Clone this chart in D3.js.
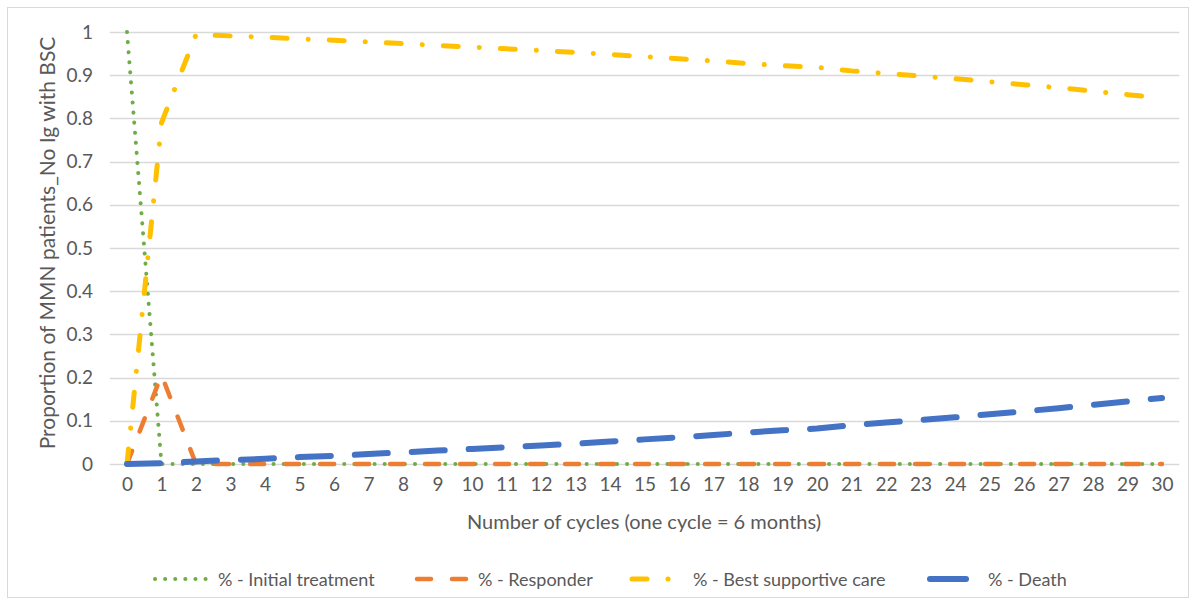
<!DOCTYPE html>
<html><head><meta charset="utf-8">
<script src="https://cdn.jsdelivr.net/npm/d3@7"></script>
<style>body{margin:0;background:#fff}svg{display:block}text{font-family:Lato,sans-serif;fill:#595959}</style>
</head><body><svg id="c" width="1201" height="604"></svg>
<script>
const cycles = d3.range(0, 31);
const initialTreatment = [1,0,0,0,0,0,0,0,0,0,0,0,0,0,0,0,0,0,0,0,0,0,0,0,0,0,0,0,0,0,0];
const responder = [0,0.206,0,0,0,0,0,0,0,0,0,0,0,0,0,0,0,0,0,0,0,0,0,0,0,0,0,0,0,0,0];
const bestSupportiveCare = [0,0.79,0.994,0.991,0.988,0.984,0.981,0.977,0.973,0.969,0.965,0.961,0.957,0.953,0.948,0.943,0.938,0.933,0.927,0.922,0.918,0.910,0.904,0.898,0.892,0.885,0.878,0.871,0.863,0.855,0.847];
const death = [0,0.002,0.006,0.009,0.012,0.016,0.019,0.023,0.027,0.031,0.035,0.039,0.043,0.047,0.052,0.057,0.062,0.067,0.073,0.078,0.082,0.090,0.096,0.102,0.108,0.115,0.122,0.129,0.137,0.145,0.153];
const yTicks = [0,0.1,0.2,0.3,0.4,0.5,0.6,0.7,0.8,0.9,1];
const seriesNames = ["% - Initial treatment","% - Responder","% - Best supportive care","% - Death"];

const series = [
  {name: seriesNames[0], values: initialTreatment, color: "#70AD47", w: 4, dash: "0.1,10"},
  {name: seriesNames[1], values: responder, color: "#ED7D31", w: 4.5, dash: "14,21"},
  {name: seriesNames[2], values: bestSupportiveCare, color: "#FFC000", w: 5, dash: "15,21,0.1,21"},
  {name: seriesNames[3], values: death, color: "#4472C4", w: 6, dash: "33,24"}
];

const svg = d3.select("#c");
svg.append("rect").attr("x",7.5).attr("y",7.5).attr("width",1181).attr("height",590)
  .attr("fill","#fff").attr("stroke","#d9d9d9");

const x = d3.scaleLinear().domain([0,30]).range([127,1162]);
const y = d3.scaleLinear().domain([0,1]).range([464,32]);
const band = x(1)-x(0);

// gridlines
svg.append("g").selectAll("line").data(yTicks).join("line")
  .attr("x1", x(0)-band/2).attr("x2", x(30)+band/2)
  .attr("y1", d=>Math.round(y(d))+0.5).attr("y2", d=>Math.round(y(d))+0.5)
  .attr("stroke","#d9d9d9").attr("stroke-width",1.3);

// y axis labels
const yAxis = d3.axisLeft(y).tickValues(yTicks).tickSize(0).tickPadding(0).tickFormat(d3.format("~g"));
const gy = svg.append("g").attr("transform","translate(93,0)").call(yAxis);
gy.select(".domain").remove();
gy.selectAll("text").style("font-size","19px").attr("fill","#595959").style("font-family","Lato,sans-serif");

// x axis labels
const xAxis = d3.axisBottom(x).tickValues(cycles).tickSize(0).tickPadding(0).tickFormat(d3.format("d"));
const gx = svg.append("g").attr("transform","translate(0,477)").call(xAxis);
gx.select(".domain").remove();
gx.selectAll("text").style("font-size","19px").attr("fill","#595959").style("font-family","Lato,sans-serif");

// titles
svg.append("text").attr("x",644).attr("y",529).attr("text-anchor","middle")
  .style("font-size","20px").text("Number of cycles (one cycle = 6 months)");
svg.append("text").attr("transform","translate(55,243) rotate(-90)").attr("text-anchor","middle")
  .style("font-size","21px").text("Proportion of MMN patients_No Ig with BSC");

// lines
const line = d3.line().x((d,i)=>x(cycles[i])).y(d=>y(d));
svg.append("g").selectAll("path").data(series).join("path")
  .attr("d", d=>line(d.values)).attr("fill","none")
  .attr("stroke", d=>d.color).attr("stroke-width", d=>d.w)
  .attr("stroke-dasharray", d=>d.dash).attr("stroke-linecap","round").attr("stroke-linejoin","round");

// legend
const legPos = [{x0:155,x1:212,tx:218},{x0:417,x1:470,tx:478},{x0:632,x1:670,tx:693},{x0:930,x1:966,tx:988}];
const lg = svg.append("g").selectAll("g").data(series).join("g");
lg.append("line").attr("x1",(d,i)=>legPos[i].x0).attr("x2",(d,i)=>legPos[i].x1)
  .attr("y1",579).attr("y2",579).attr("stroke",d=>d.color).attr("stroke-width",d=>d.w)
  .attr("stroke-dasharray",(d,i)=> i===3 ? null : d.dash).attr("stroke-linecap","round");
lg.append("text").attr("x",(d,i)=>legPos[i].tx).attr("y",586).style("font-size","18px").text(d=>d.name);
</script></body></html>
